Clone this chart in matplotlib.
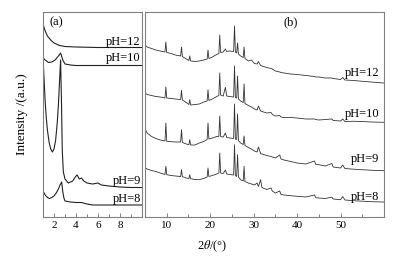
import matplotlib
matplotlib.use("Agg")
import matplotlib.pyplot as plt
from matplotlib.ticker import MultipleLocator

plt.rcParams['font.family'] = ['Liberation Serif', 'DejaVu Serif']
plt.rcParams['mathtext.fontset'] = 'stix'

# ---- panel (a): small-angle patterns ----
a12_x = [1.0, 1.2, 1.4, 1.7, 2.0, 2.5, 3.0, 4.0, 6.0, 8.0, 10.0]
a12_y = [193, 186, 181, 177, 174, 171.5, 170.5, 170, 169.5, 169.5, 169.5]

a10_x = [1.0, 1.2, 1.5, 1.8, 2.1, 2.4, 2.6, 2.8, 3.0, 3.5, 4.0, 6.0, 8.0, 10.0]
a10_y = [159, 157, 154.5, 155, 157, 161, 164, 157, 153, 152, 151.5, 151.5, 151.5, 151.5]

a9_x = [1.0, 1.1, 1.2, 1.3, 1.4, 1.55, 1.7, 1.85, 2.0, 2.15, 2.3, 2.4, 2.5, 2.6,
        2.68, 2.75, 2.85, 3.0, 3.3, 3.7, 4.0, 4.1, 4.3, 4.5, 4.7, 5.0, 5.5, 6.0,
        6.3, 7.0, 8.0, 9.0, 10.0]
a9_y = [159, 137, 115, 99, 87, 75, 68, 65, 68, 77, 95, 112, 135, 157,
        115, 67, 45, 38, 34, 36, 41, 42, 38, 39, 36, 34, 33, 34,
        32, 31, 30, 29.5, 29.5]

a8_x = [1.0, 1.2, 1.4, 1.6, 1.8, 2.0, 2.2, 2.4, 2.55, 2.7, 2.8, 2.9, 3.0, 3.5,
        4.0, 4.5, 5.0, 5.5, 6.0, 7.0, 8.0, 10.0]
a8_y = [26, 22, 19.5, 18.5, 19.5, 21, 24, 28, 32, 35, 25, 19, 16, 15,
        14.5, 14.5, 13, 12, 12, 12, 12, 12]

# ---- panel (b): wide-angle patterns ----
b_x = [5.0, 5.5, 6.5, 7.5, 8.5, 9.6, 9.8, 10.0, 11.0, 12.0, 13.2, 13.4, 13.6, 14.5,
       15.1, 15.3, 15.5, 16.5, 17.5, 18.5, 19.3, 19.5, 19.7, 20.5, 21.5, 22.0,
       22.2, 22.4, 23.0, 23.5, 23.8, 24.5, 25.4, 25.6, 25.8, 26.1, 26.3, 26.5,
       27.0, 27.6, 27.8, 28.0, 28.8, 29.5, 30.2, 30.8, 31.1, 31.6, 31.9, 33.0,
       34.0, 34.3, 35.0, 36.0, 36.3, 37.0, 38.5, 40.0, 42.0, 44.0, 44.3, 45.0,
       46.5, 48.0, 48.3, 50.0, 50.5, 51.0, 53.0, 55.0, 57.0, 60.0]
b12_y = [172, 170, 168.5, 167, 166, 165, 175, 164.5, 163.5, 162, 161, 170, 160.5, 158,
         156.5, 161, 156, 155.5, 156, 157, 158, 167, 158.5, 160, 162.5, 163.5,
         182, 164.5, 165, 168, 165.5, 166, 165.5, 191, 165, 164, 174, 163,
         161, 159.5, 170, 158.5, 156, 157, 153.5, 153, 155.5, 151.5, 151, 149.5,
         148.5, 148, 146, 145, 144.5, 144, 143, 142.5, 141.5, 140.5, 140, 140,
         139, 139, 138.5, 137.5, 139.5, 137, 136.5, 135.7, 135, 134]
b10_y = [124, 122.5, 121.5, 120.5, 120, 119, 130, 119, 118.5, 118, 117.5, 126.7, 117, 114.5,
         112.5, 117.3, 112, 112.5, 113, 115, 116, 127.3, 116.5, 118, 120.5, 121.5,
         144, 122, 121, 129.7, 121, 120.5, 120, 151, 119.5, 119, 141, 118,
         116, 114.5, 133, 113.5, 111.5, 110, 108, 107, 111, 106, 105.5, 104,
         104.5, 102.5, 101, 101.5, 100, 99.5, 99.5, 99, 98, 98, 97.5, 97,
         97.5, 98, 96.5, 96, 98, 95.5, 95.7, 95.5, 95, 94.7]
b9_y = [88, 84, 80.5, 78.5, 77, 76, 94, 75.7, 75.3, 75, 75, 87.3, 74.5, 73,
        72.3, 77.3, 72, 72, 74, 75.5, 77.5, 94, 78, 79, 80.5, 80.7,
        101, 80.5, 80, 84, 79.5, 79, 78.5, 113, 78, 77.5, 103, 76.5,
        74, 72.5, 81, 71.5, 69.5, 68, 66, 65, 70, 63.5, 63, 61.5,
        60.5, 60, 59, 62, 58, 57, 55.5, 54, 53, 56, 52.5, 52.3,
        51, 53.5, 50, 49, 52, 48.5, 47.8, 47.3, 46.8, 46.3]
b8_y = [49, 48, 46.5, 45.5, 44, 42.5, 50.7, 42.3, 41.5, 41, 40.5, 47.3, 40.3, 39,
        38.5, 42.3, 38.3, 37.5, 37.3, 38.5, 40, 49, 40.5, 41.5, 43, 44,
        64, 44, 43.5, 47, 43, 42.5, 42, 72.3, 41.5, 40.5, 62.3, 40,
        37.3, 36, 50.7, 35.5, 34, 33, 32, 34, 30.5, 37.3, 29.5, 27.5,
        29, 26, 24, 26, 22.5, 22, 21.3, 20.7, 20, 22, 19.3, 19,
        18.5, 19.8, 18, 17.3, 20.5, 17, 16.3, 15.8, 15.3, 15]

labels = ['pH=12', 'pH=10', 'pH=9', 'pH=8']
a_label_y = [175, 159, 36, 18]
b_label_y = [144, 103, 58, 20]

W, H = 394, 259
fig = plt.figure(figsize=(W / 100, H / 100), dpi=100)
ax_a = fig.add_axes([43 / W, 1 - 217 / H, 99 / W, 205 / H])
ax_b = fig.add_axes([145 / W, 1 - 217 / H, 239 / W, 205 / H])

line_col = '#222222'
spine_col = '#808080'

for xs, ys in [(a12_x, a12_y), (a10_x, a10_y), (a9_x, a9_y), (a8_x, a8_y)]:
    ax_a.plot(xs, ys, color=line_col, lw=0.8)
for ys in [b12_y, b10_y, b9_y, b8_y]:
    ax_b.plot(b_x, ys, color='#333333', lw=0.6)

ax_a.set_xlim(1, 10)
ax_b.set_xlim(5, 60)
for ax in (ax_a, ax_b):
    ax.set_ylim(0, 205)
    ax.set_yticks([])
    for s in ax.spines.values():
        s.set_color(spine_col)
        s.set_linewidth(0.8)
    ax.tick_params(axis='x', which='both', direction='in', colors=spine_col,
                   labelcolor='black', labelsize=8, width=0.7, pad=3)
    ax.tick_params(axis='x', which='major', length=3)
    ax.tick_params(axis='x', which='minor', length=2)

ax_a.set_xticks([2, 4, 6, 8])
ax_a.xaxis.set_minor_locator(MultipleLocator(1))
ax_b.set_xticks([10, 20, 30, 40, 50])
ax_b.set_xticks([15, 25, 35, 45, 55], minor=True)

for lab, ya, yb in zip(labels, a_label_y, b_label_y):
    ax_a.text(9.9, ya, lab, ha='right', va='center', fontsize=9)
    ax_b.text(59, yb, lab, ha='right', va='center', fontsize=9)

ax_a.text(1.6, 195, '(a)', ha='left', va='center', fontsize=9)
ax_b.text(38.5, 195, '(b)', ha='center', va='center', fontsize=9)

fig.text(22 / W, 1 - 114 / H, 'Intensity /(a.u.)', rotation=90,
         ha='center', va='center', fontsize=9.5)
fig.text(212 / W, 1 - 246 / H, r'2$\theta$/(°)', ha='center', va='center',
         fontsize=9)

fig.savefig('out.png', dpi=100)
